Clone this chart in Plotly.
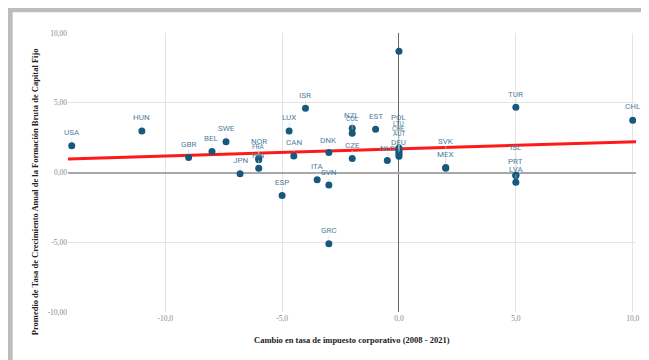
import plotly.graph_objects as go

# ---------------- data ----------------
countries = ["USA", "HUN", "GBR", "BEL", "SWE", "NOR", "FRA", "FIN", "JPN", "CAN",
             "LUX", "ISR", "ESP", "ITA", "SVN", "GRC", "DNK", "CZE", "NZL", "COL",
             "EST", "NLD", "IRL", "POL", "LTU", "CHE", "AUT", "DEU", "SVK", "MEX",
             "ISL", "PRT", "LVA", "TUR", "CHL"]
tax_change = [-14.0, -11.0, -9.0, -8.0, -7.4, -6.0, -6.0, -6.0, -6.8, -4.5,
              -4.7, -4.0, -5.0, -3.5, -3.0, -3.0, -3.0, -2.0, -2.0, -2.0,
              -1.0, -0.5, 0.0, 0.0, 0.0, 0.0, 0.0, 0.0, 2.0, 2.0,
              5.0, 5.0, 5.0, 5.0, 10.0]
gfcf_growth = [1.91, 2.98, 1.07, 1.50, 2.21, 1.03, 0.92, 0.31, -0.09, 1.19,
               2.98, 4.60, -1.64, -0.52, -0.90, -5.11, 1.43, 1.00, 3.17, 2.81,
               3.10, 0.86, 8.69, 1.76, 1.59, 1.44, 1.30, 1.16, 0.35, 0.30,
               -0.19, -0.21, -0.69, 4.67, 3.74]

# trend line (value at x = 0 and slope per point)
trend_intercept = 1.69
trend_slope = 0.0514

x_ticks = [-10, -5, 0, 5, 10]
x_tick_labels = ["-10,0", "-5,0", "0,0", "5,0", "10,0"]
y_ticks = [-10, -5, 0, 5, 10]
y_tick_labels = ["-10,00", "-5,00", "0,00", "5,00", "10,00"]

x_title = "Cambio en tasa de impuesto corporativo (2008 - 2021)"
y_title = "Promedio de Tasa de Crecimiento Anual de la Formación Bruta de Capital Fijo"

# label placement (pixel offsets above the point; None = label hidden)
label_offsets = {
    "USA": -13, "HUN": -13, "GBR": -13, "BEL": -13, "SWE": -13, "NOR": -16.5,
    "FRA": -12.5, "FIN": -13, "JPN": -13, "CAN": -13, "LUX": -13.5, "ISR": -13,
    "ESP": -13, "ITA": -13, "SVN": -12.5, "GRC": -13.5, "DNK": -12.5, "CZE": -13.5,
    "NZL": -13, "COL": -14, "EST": -13, "NLD": -12.5, "IRL": None,
    "POL": -30.5, "LTU": -26.5, "CHE": -23.5, "AUT": -20.5, "DEU": -14,
    "SVK": -26.5, "MEX": -14, "ISL": -27.5, "PRT": -13.5, "LVA": -12.5,
    "TUR": -13, "CHL": -13.5,
}
small_labels = {"FRA", "COL", "LTU", "CHE", "AUT"}

x_range = [-14.16, 10.14]
y_range = [-10, 10]

# ---------------- figure ----------------
fig = go.Figure()

fig.add_trace(go.Scatter(
    x=x_range, y=[trend_intercept + trend_slope * v for v in x_range], mode="lines",
    line=dict(color="#ff1a1a", width=3), hoverinfo="skip", showlegend=False,
))

fig.add_trace(go.Scatter(
    x=tax_change, y=gfcf_growth, mode="markers", text=countries,
    marker=dict(color="#17597c", size=7), showlegend=False,
))

annotations = []
for c, xv, yv in zip(countries, tax_change, gfcf_growth):
    off = label_offsets.get(c)
    if off is None:
        continue
    annotations.append(dict(
        x=xv, y=yv, xref="x", yref="y", text=c, showarrow=True,
        arrowhead=0, arrowwidth=0.6, arrowcolor="#d6d6d6", ax=0, ay=off,
        standoff=4,
        font=dict(family="Roboto, sans-serif", size=6.5 if c in small_labels else 8,
                  color="#4f7fa1"),
        borderpad=0,
    ))

annotations.append(dict(
    x=0.5, y=-0.1, xref="paper", yref="paper", text="<b>" + x_title + "</b>",
    showarrow=False, xanchor="center", yanchor="middle",
    font=dict(family="Liberation Serif", size=8.5, color="#222"),
))
annotations.append(dict(
    x=-0.0577, y=0.43, xref="paper", yref="paper", text="<b>" + y_title + "</b>",
    showarrow=False, textangle=-90, xanchor="center", yanchor="middle",
    font=dict(family="Liberation Serif", size=8.5, color="#222"),
))

shapes = [
    # grey frame (top and left edges of the card)
    dict(type="rect", xref="paper", yref="paper",
         x0=-0.106, x1=1.03, y0=1.0742, y1=1.095,
         fillcolor="#bcbcbc", line=dict(width=0), layer="above"),
    dict(type="rect", xref="paper", yref="paper",
         x0=-0.106, x1=-0.0974, y0=-0.2, y1=1.095,
         fillcolor="#bcbcbc", line=dict(width=0), layer="above"),
]

fig.update_layout(
    width=641, height=352,
    margin=dict(l=60, r=9, t=25, b=48),
    paper_bgcolor="white", plot_bgcolor="white",
    annotations=annotations, shapes=shapes,
    xaxis=dict(
        range=x_range, tickvals=x_ticks, ticktext=x_tick_labels,
        showgrid=True, gridcolor="#e4e4e4", gridwidth=1,
        zeroline=True, zerolinecolor="#666666", zerolinewidth=1.2,
        showline=False, ticks="",
        tickfont=dict(family="Liberation Serif", size=7.5, color="#888"),
    ),
    yaxis=dict(
        range=y_range, tickvals=y_ticks, ticktext=y_tick_labels,
        showgrid=True, gridcolor="#e4e4e4", gridwidth=1,
        zeroline=True, zerolinecolor="#a8a8a8", zerolinewidth=1.6,
        showline=False, ticks="",
        tickfont=dict(family="Liberation Serif", size=7.5, color="#888"),
    ),
)

fig.write_html("out.html")
